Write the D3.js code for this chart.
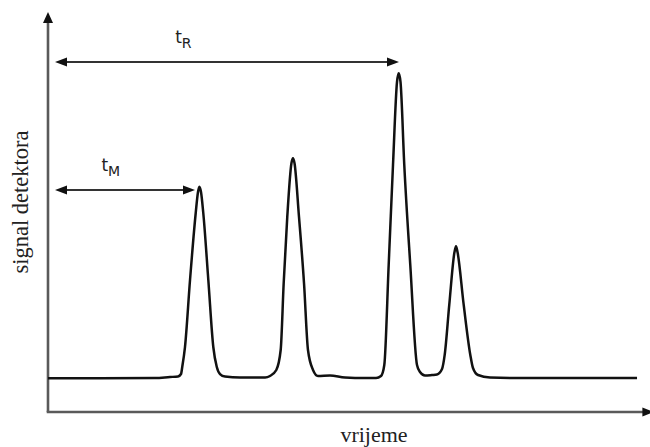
<!DOCTYPE html>
<html>
<head>
<meta charset="utf-8">
<script src="https://cdn.jsdelivr.net/npm/d3@7"></script>
<style>
  html, body { margin: 0; padding: 0; background: #fff; }
  svg { display: block; }
</style>
</head>
<body>
<svg id="chart" width="650" height="447"></svg>
<script>
// Chromatogram trace: time (arbitrary units) and detector signal
const time = [0, 8.67, 17.83, 20.33, 21.67, 22.17, 22.38, 22.83, 23.67, 24.62, 25, 25.22, 25.5, 25.88, 26.72, 27.55, 28.12, 28.67, 29.5,
  32, 36.17, 37, 38.05, 38.78, 39.28, 39.88, 40.58, 40.83, 41.08, 41.83, 42.67, 43.33, 44.17, 45,
  47, 49.5, 52.83, 54.67, 55.5, 56.05, 56.78, 57.5, 58.17, 58.45, 58.75, 59.38, 60.38, 61.5, 62, 62.83,
  64, 64.83, 65.67, 66.12, 66.88, 67.75, 68, 68.25, 69.28, 70.38, 70.83, 71.67, 73.67, 78.67, 88.67, 98.17];
const signal = [-0.1, -0.1, 0, 0.33, 0.5, 1.33, 3.77, 10.33, 32.67, 55, 62, 63.77, 62, 55, 32.67, 10.33, 3.77, 1.33, 0.5,
  0.17, 0.17, 0.67, 2.67, 9.33, 31.57, 53.77, 71.67, 73.23, 71.67, 53.77, 31.57, 9.33, 2.67, 0.67,
  0.83, 0.17, 0, 0, 0.67, 4.33, 37.67, 71, 98.67, 101.57, 98.67, 71, 37.67, 4.33, 2, 0.83,
  1, 1.17, 3, 7.77, 24.43, 42, 43.9, 42, 24.43, 7.77, 3.33, 1, 0.17, 0, 0, 0];

// Annotation arrows: start time, end time, signal level, label main / subscript
const arrowNames = ["tR", "tM"];
const arrowStart = [1.17, 1.17];
const arrowEnd = [58.5, 24.5];
const arrowLevel = [105.3, 62.67];
const arrowLabelMain = ["t", "t"];
const arrowLabelSub = ["R", "M"];
const arrowLabelAt = [21.2, 8.9];

const xLabel = "vrijeme";
const yLabel = "signal detektora";

// Axis extents (data units)
const xAxisExtent = [0, 100.4];
const yAxisExtent = [-11.33, 122];

const svg = d3.select("#chart");
const x = d3.scaleLinear().domain([0, 100]).range([48, 648]);
const y = d3.scaleLinear().domain([0, 100]).range([378, 78]);

const axisColor = "#5a5a5a";

// Y axis
svg.append("line")
  .attr("x1", x(0)).attr("x2", x(0))
  .attr("y1", y(yAxisExtent[0])).attr("y2", y(yAxisExtent[1]) + 9)
  .attr("stroke", axisColor).attr("stroke-width", 2.6);
svg.append("path")
  .attr("d", `M${x(0)},${y(yAxisExtent[1])} L${x(0) - 5},${y(yAxisExtent[1]) + 11} L${x(0) + 5},${y(yAxisExtent[1]) + 11} Z`)
  .attr("fill", "#111");

// X axis
svg.append("line")
  .attr("x1", x(0) - 1.3).attr("x2", x(xAxisExtent[1]) - 6)
  .attr("y1", y(yAxisExtent[0])).attr("y2", y(yAxisExtent[0]))
  .attr("stroke", axisColor).attr("stroke-width", 2.6);
svg.append("path")
  .attr("d", `M${x(xAxisExtent[1]) + 3},${y(yAxisExtent[0])} L${x(xAxisExtent[1]) - 8},${y(yAxisExtent[0]) - 4.5} L${x(xAxisExtent[1]) - 8},${y(yAxisExtent[0]) + 4.5} Z`)
  .attr("fill", "#111");

// Chromatogram
const pts = time.map((t, i) => [t, signal[i]]);
const line = d3.line().x(d => x(d[0])).y(d => y(d[1])).curve(d3.curveMonotoneX);
svg.append("path")
  .attr("d", line(pts))
  .attr("fill", "none")
  .attr("stroke", "#111")
  .attr("stroke-width", 2.5)
  .attr("stroke-linejoin", "round");

// Annotation arrows
arrowNames.forEach((name, i) => {
  const x1 = x(arrowStart[i]), x2 = x(arrowEnd[i]), yy = y(arrowLevel[i]);
  const g = svg.append("g");
  g.append("line")
    .attr("x1", x1 + 8).attr("x2", x2 - 8)
    .attr("y1", yy).attr("y2", yy)
    .attr("stroke", "#333").attr("stroke-width", 2);
  g.append("path")
    .attr("d", `M${x1},${yy} L${x1 + 12},${yy - 4.5} L${x1 + 12},${yy + 4.5} Z`)
    .attr("fill", "#111");
  g.append("path")
    .attr("d", `M${x2},${yy} L${x2 - 12},${yy - 4.5} L${x2 - 12},${yy + 4.5} Z`)
    .attr("fill", "#111");
  const txt = g.append("text")
    .attr("x", x(arrowLabelAt[i]))
    .attr("y", yy - 19)
    .attr("font-family", "'DejaVu Sans', sans-serif")
    .attr("font-size", 17)
    .attr("fill", "#222");
  txt.append("tspan").text(arrowLabelMain[i]);
  txt.append("tspan").attr("dy", 5).attr("font-size", 14).text(arrowLabelSub[i]);
});

// Axis titles
svg.append("text")
  .attr("x", 374).attr("y", 442)
  .attr("text-anchor", "middle")
  .attr("font-family", "'Liberation Serif', 'Times New Roman', serif")
  .attr("font-size", 22)
  .attr("fill", "#222")
  .text(xLabel);

svg.append("text")
  .attr("transform", "translate(28,202) rotate(-90)")
  .attr("text-anchor", "middle")
  .attr("font-family", "'Liberation Serif', 'Times New Roman', serif")
  .attr("font-size", 22.5)
  .attr("fill", "#222")
  .text(yLabel);
</script>
</body>
</html>
